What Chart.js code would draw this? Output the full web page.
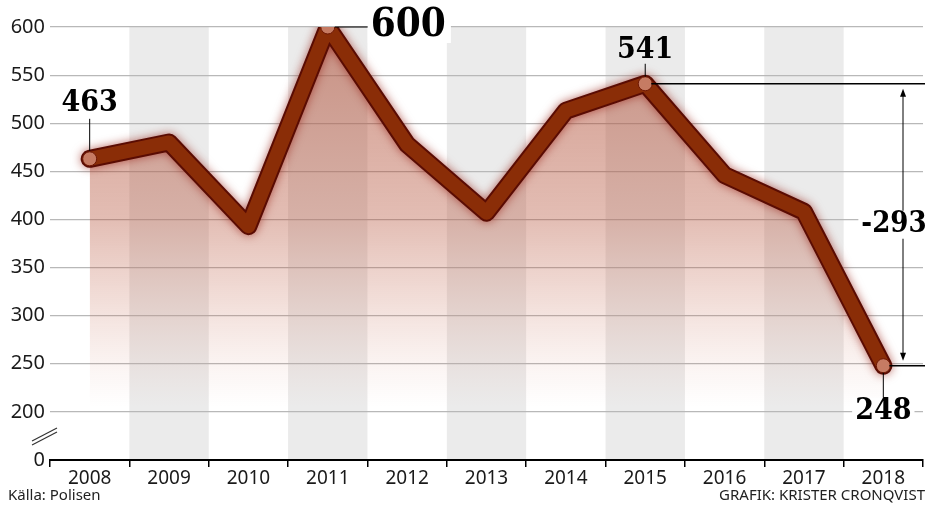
<!DOCTYPE html>
<html>
<head>
<meta charset="utf-8">
<script src="https://cdn.jsdelivr.net/npm/chart.js@4"></script>
<style>
  html, body { margin: 0; padding: 0; background: #fff; }
  #wrap { width: 931px; height: 505px; position: relative; }
</style>
</head>
<body>
<div id="wrap"><canvas id="myChart" width="931" height="505"></canvas></div>
<script>
// data
var years = ['2008', '2009', '2010', '2011', '2012', '2013', '2014', '2015', '2016', '2017', '2018'];
var cases = [463, 480, 393, 600, 478, 407, 513, 541, 446, 408, 248];
var yTicks = [150, 200, 250, 300, 350, 400, 450, 500, 550, 600]; // 150 is shown as "0" (broken axis)
var markedYears = ['2008', '2011', '2015', '2018'];
var sourceText = 'Källa: Polisen';
var creditText = 'GRAFIK: KRISTER CRONQVIST';

var numFont = '"DejaVu Serif Condensed", "DejaVu Serif", serif';
var sansFont = '"Noto Sans", "Open Sans", sans-serif';

function labelBox(c, text, x, y) {
    // white box behind a big number, so grid lines break around it
    var w = c.measureText(text).width;
    c.fillStyle = '#fff';
    c.fillRect(x - w / 2 - 3, y - 14, w + 6, 28);
    c.fillStyle = '#000';
    c.fillText(text, x, y);
}

var bandsPlugin = {
    id: 'bands',
    beforeDraw: function (chart) {
        var c = chart.ctx, area = chart.chartArea;
        var step = (area.right - area.left) / years.length;
        c.save();
        c.fillStyle = '#ebebeb';
        for (var i = 1; i < years.length; i += 2) {
            c.fillRect(area.left + i * step, area.top, step, area.bottom - area.top);
        }
        c.restore();
    }
};

var glowPlugin = {
    id: 'glow',
    beforeDatasetDraw: function (chart, args) {
        if (args.index === 1) {
            chart.ctx.save();
            chart.ctx.shadowColor = 'rgba(150, 30, 20, 0.65)';
            chart.ctx.shadowBlur = 10;
        }
    },
    afterDatasetDraw: function (chart, args) {
        if (args.index === 1) chart.ctx.restore();
    }
};

var notesPlugin = {
    id: 'notes',
    afterDatasetsDraw: function (chart) {
        var c = chart.ctx, x = chart.scales.x, y = chart.scales.y;
        var right = chart.width - 6;
        function px(i) { return x.getPixelForValue(i); }
        function py(v) { return y.getPixelForValue(v); }

        c.save();
        c.strokeStyle = '#000';
        c.lineWidth = 1;
        c.textAlign = 'center';
        c.textBaseline = 'middle';

        // 2008
        var x0 = px(0), y0 = py(cases[0]);
        c.beginPath(); c.moveTo(x0, y0 - 8); c.lineTo(x0, y0 - 40); c.stroke();
        c.font = 'bold 30px ' + numFont;
        labelBox(c, String(cases[0]), x0, y0 - 56);

        // 2011 peak
        var x3 = px(3), y3 = py(cases[3]);
        c.beginPath(); c.moveTo(x3 + 7, y3); c.lineTo(x3 + 40, y3); c.stroke();
        c.font = 'bold 40px ' + numFont;
        var w6 = c.measureText(String(cases[3])).width;
        c.fillStyle = '#fff';
        c.fillRect(x3 + 40, y3 - 18, w6 + 8, 34);
        c.fillStyle = '#000';
        c.textAlign = 'left';
        c.fillText(String(cases[3]), x3 + 43, y3 - 1);
        c.textAlign = 'center';

        // 2015
        var x7 = px(7), y7 = py(cases[7]);
        c.beginPath(); c.moveTo(x7, y7 - 7); c.lineTo(x7, y7 - 20); c.stroke();
        c.font = 'bold 30px ' + numFont;
        c.fillText(String(cases[7]), x7, y7 - 34);

        // 2018
        var x10 = px(10), y10 = py(cases[10]);
        c.beginPath(); c.moveTo(x10, y10 + 7); c.lineTo(x10, y10 + 32); c.stroke();
        labelBox(c, String(cases[10]), x10, y10 + 46);

        // difference bracket
        c.lineWidth = 1.5;
        c.beginPath(); c.moveTo(x7 + 6, y7); c.lineTo(right, y7); c.stroke();
        c.beginPath(); c.moveTo(x10 + 6, y10); c.lineTo(right, y10); c.stroke();
        var ax = right - 22;
        c.lineWidth = 1;
        c.beginPath(); c.moveTo(ax, y7 + 8); c.lineTo(ax, y10 - 8); c.stroke();
        c.fillStyle = '#000';
        c.beginPath(); c.moveTo(ax, y7 + 5); c.lineTo(ax - 3, y7 + 13); c.lineTo(ax + 3, y7 + 13); c.fill();
        c.beginPath(); c.moveTo(ax, y10 - 5); c.lineTo(ax - 3, y10 - 13); c.lineTo(ax + 3, y10 - 13); c.fill();
        c.font = 'bold 29px ' + numFont;
        labelBox(c, String(cases[10] - cases[7]), ax - 9, (y7 + y10) / 2);
        c.restore();
    },
    afterDraw: function (chart) {
        var c = chart.ctx, y = chart.scales.y;
        c.save();
        // axis break mark between 0 and 200
        var mid = (y.getPixelForValue(150) + y.getPixelForValue(200)) / 2;
        c.strokeStyle = '#333';
        c.lineWidth = 1.2;
        for (var k = -2; k <= 2; k += 4) {
            c.beginPath();
            c.moveTo(32, mid + 7 + k);
            c.lineTo(57, mid - 6 + k);
            c.stroke();
        }
        c.font = '15px ' + sansFont;
        c.fillStyle = '#222';
        c.textBaseline = 'alphabetic';
        c.textAlign = 'left';
        c.fillText(sourceText, 8, 500);
        c.textAlign = 'right';
        c.fillText(creditText, 925, 500);
        c.restore();
    }
};

function fillGradient(context) {
    var chart = context.chart;
    if (!chart.chartArea) return 'rgba(180, 80, 55, 0.3)';
    var y = chart.scales.y;
    var g = chart.ctx.createLinearGradient(0, y.getPixelForValue(600), 0, y.getPixelForValue(205));
    g.addColorStop(0, 'rgba(170, 70, 45, 0.55)');
    g.addColorStop(0.5, 'rgba(180, 80, 55, 0.38)');
    g.addColorStop(0.78, 'rgba(195, 100, 75, 0.16)');
    g.addColorStop(1, 'rgba(210, 130, 110, 0)');
    return g;
}

var pointSizes = years.map(function (yr) { return markedYears.indexOf(yr) >= 0 ? 7 : 0; });

var ctx = document.getElementById('myChart').getContext('2d');
var currentChart = new Chart(ctx, {
    type: 'line',
    data: {
        labels: years,
        datasets: [{
            // main line with marked points
            data: cases,
            borderColor: '#8a2d07',
            borderWidth: 14,
            borderJoinStyle: 'round',
            borderCapStyle: 'round',
            pointRadius: pointSizes,
            pointBackgroundColor: '#c67b63',
            pointBorderColor: '#6e1804',
            pointBorderWidth: 1,
            fill: false,
            order: 0
        }, {
            // dark outline with glow
            data: cases,
            borderColor: '#5a0c03',
            borderWidth: 18,
            borderJoinStyle: 'round',
            borderCapStyle: 'round',
            pointRadius: 0,
            fill: false,
            order: 1
        }, {
            // shaded area
            data: cases,
            borderWidth: 0,
            pointRadius: 0,
            backgroundColor: fillGradient,
            fill: 'start',
            order: 2
        }]
    },
    options: {
        responsive: false,
        animation: false,
        events: [],
        layout: { padding: { top: 27, right: 8, bottom: 15, left: 0 } },
        plugins: { legend: { display: false }, tooltip: { enabled: false } },
        scales: {
            x: {
                offset: true,
                grid: { offset: true, drawOnChartArea: false, color: '#000', lineWidth: 1.5, tickLength: 7 },
                border: { color: '#000', width: 2 },
                ticks: { font: { family: sansFont, size: 19 }, color: '#1a1a1a', padding: 0, maxRotation: 0 },
                afterFit: function (s) { s.height = 30; }
            },
            y: {
                min: 150,
                max: 600,
                afterBuildTicks: function (s) { s.ticks = yTicks.map(function (v) { return { value: v }; }); },
                grid: {
                    color: function (c) { return c.tick && c.tick.value === 150 ? 'rgba(0,0,0,0)' : '#b8b8b8'; },
                    lineWidth: 1.2,
                    drawTicks: false
                },
                border: { display: false },
                ticks: {
                    font: { family: sansFont, size: 20 },
                    color: '#1a1a1a',
                    padding: 5,
                    callback: function (v) { return v === 150 ? '0' : v; }
                },
                afterFit: function (s) { s.width = 50; }
            }
        }
    },
    plugins: [bandsPlugin, glowPlugin, notesPlugin]
});
</script>
</body>
</html>
